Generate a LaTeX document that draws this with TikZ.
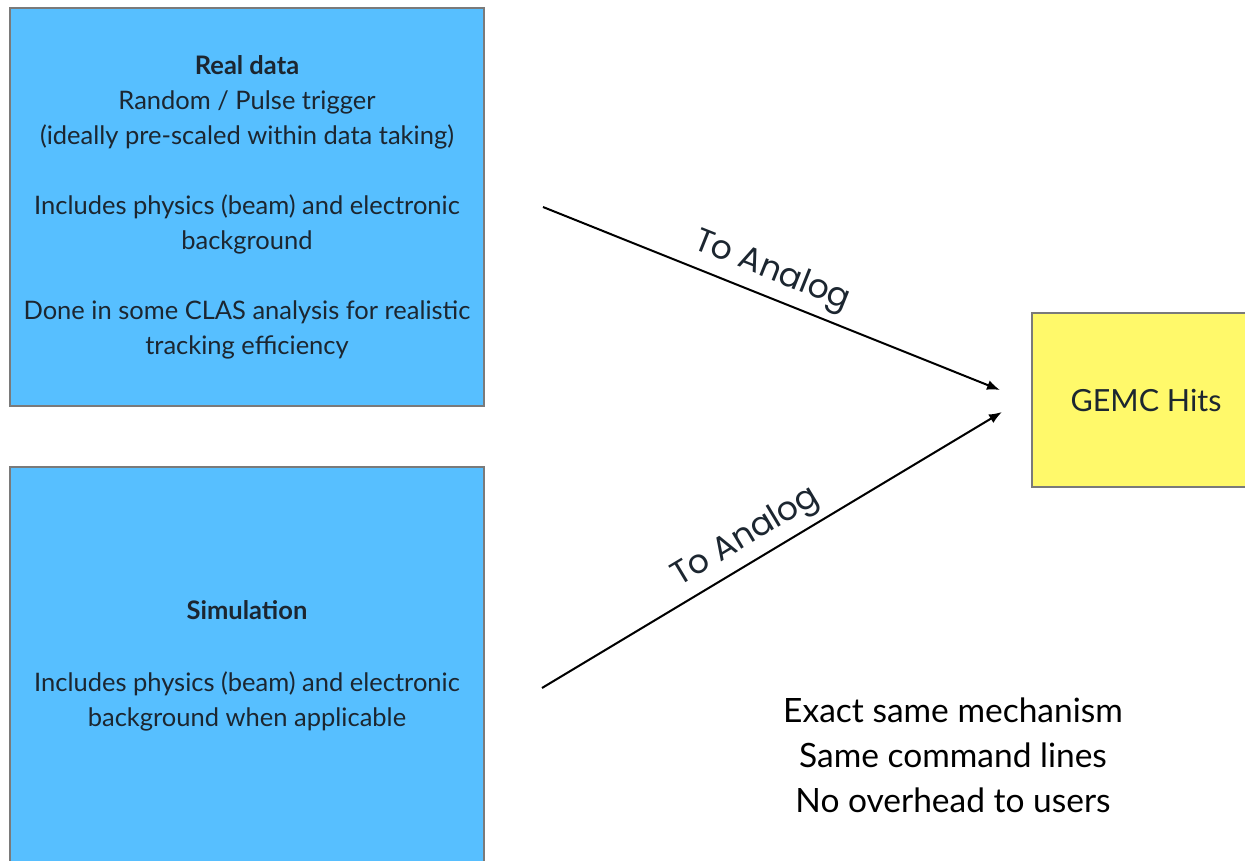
\documentclass[tikz,border=0pt]{standalone}
\usepackage{fontspec}
\setmainfont{Lato}
\newfontfamily\labelfont{Poppins}
\usetikzlibrary{arrows.meta}
\definecolor{boxblue}{HTML}{57BFFF}
\definecolor{boxyellow}{HTML}{FFF96A}
\definecolor{edgegray}{HTML}{7A7A7A}
\definecolor{inktext}{HTML}{1C2630}
\begin{document}
\begin{tikzpicture}[x=1pt,y=-1pt,
  panel/.style={draw=edgegray, line width=1.2pt, fill=boxblue, inner sep=0pt,
    align=center, text=inktext, font=\fontsize{25.5}{35}\selectfont},
  hitbox/.style={draw=edgegray, line width=1.2pt, fill=boxyellow, inner sep=0pt,
    text=inktext, font=\fontsize{30.5}{32}\selectfont},
  flow/.style={line width=2pt, -{Latex[length=13pt,width=10pt]}},
  flowlabel/.style={font=\labelfont\fontsize{33}{34}\selectfont, text=inktext, sloped},
  note/.style={align=center, text=black, font=\fontsize{33.5}{45}\selectfont}
]
\useasboundingbox (0,0) rectangle (1245,861);

\node[panel, minimum width=474pt, minimum height=398pt] (real) at (247,207)
  {\textbf{Real data}\\Random / Pulse trigger\\(ideally pre-scaled within data taking)\\[35pt]
   Includes physics (beam) and electronic\\background\\[35pt]
   Done in some CLAS analysis for realistic\\tracking efficiency};

\node[panel, minimum width=474pt, minimum height=398pt] (sim) at (247,666)
  {\textbf{Simulation}\\[37pt]
   Includes physics (beam) and electronic\\background when applicable};

\node[hitbox, minimum width=228pt, minimum height=174pt] (gemc) at (1146,400) {GEMC Hits};

\coordinate (s1) at (543,207);
\coordinate (e1) at (1000,390);
\coordinate (s2) at (542,688);
\coordinate (e2) at (1002,412);

\draw[flow] (s1) -- node[flowlabel, pos=0.48, above=4pt] (lab1) {To Analog} (e1);
\draw[flow] (s2) -- node[flowlabel, pos=0.47, above=3pt] (lab2) {To Analog} (e2);

\node[note] (summary) at (953,755)
  {Exact same mechanism\\Same command lines\\No overhead to users};
\end{tikzpicture}
\end{document}
